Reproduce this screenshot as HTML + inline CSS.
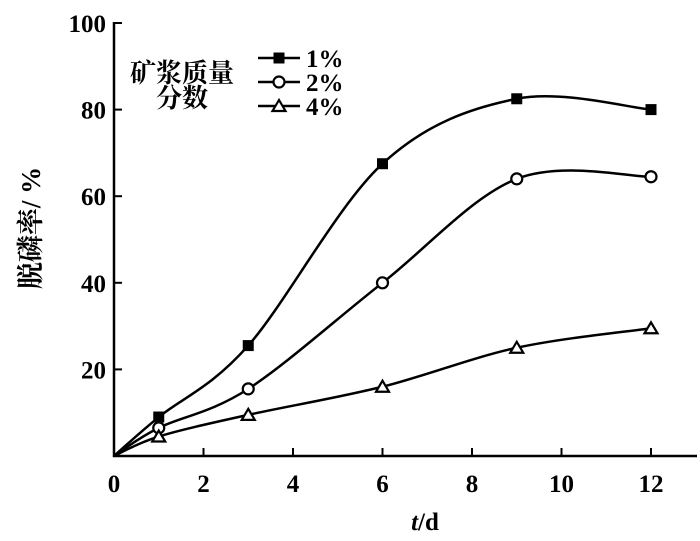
<!DOCTYPE html>
<html><head><meta charset="utf-8"><style>
body{margin:0;background:#fff}
svg text{font-family:"Liberation Serif","Noto Serif CJK SC",serif;fill:#000;font-weight:bold}
</style></head><body>
<svg id="c" width="700" height="536"></svg>
<script>
const xVals=[0,1,3,6,9,12];
const s1=[0,9,25.5,67.5,82.5,80];
const s2=[0,6.5,15.5,40,64,64.5];
const s3=[0,4.5,9.5,16,25,29.5];
const xTicks=[0,2,4,6,8,10,12];
const yTicks=[20,40,60,80,100];
const series=[{name:'1%',v:s1,m:'sq'},{name:'2%',v:s2,m:'ci'},{name:'4%',v:s3,m:'tr'}];
const NS='http://www.w3.org/2000/svg';
const svg=document.getElementById('c');
const X=v=>114+v*44.75, Y=v=>456-v*4.33;
function el(t,a,p){const e=document.createElementNS(NS,t);for(const k in a)e.setAttribute(k,a[k]);(p||svg).appendChild(e);return e;}
let ax=el('path',{d:`M${X(0)},${Y(100)-1}V${Y(0)}H697`,stroke:'#000','stroke-width':2.5,fill:'none'});


xTicks.forEach(t=>{
 if(t>0){const l=el('line',{x1:X(t),x2:X(t),y1:Y(0),y2:Y(0)-8,stroke:'#000','stroke-width':2});
 }
 const tx=el('text',{x:X(t),y:492,'text-anchor':'middle','font-size':25});tx.textContent=t;
 
 
});
yTicks.forEach(t=>{
 const l=el('line',{x1:X(0),x2:X(0)+8,y1:Y(t),y2:Y(t),stroke:'#000','stroke-width':2});
 
 const tx=el('text',{x:106,y:Y(t)+9,'text-anchor':'end','font-size':25});tx.textContent=t;
 
 
});
const xt=el('text',{x:425,y:530,'text-anchor':'middle','font-size':25});
xt.innerHTML='<tspan font-style="italic">t</tspan>/d';


const yt=el('text',{x:0,y:0,'text-anchor':'middle','font-size':27,transform:'translate(40,228) rotate(-90)'});
yt.textContent='脱磷率/ %';


function marker(m,x,y,name){
 let e;
 if(m==='sq')e=el('rect',{x:x-5.5,y:y-5.5,width:11,height:11,fill:'#000'});
 else if(m==='ci')e=el('circle',{cx:x,cy:y,r:5.5,fill:'#fff',stroke:'#000','stroke-width':2.2});
 else e=el('path',{d:`M${x},${y-6}L${x+6.5},${y+5}H${x-6.5}Z`,fill:'#fff',stroke:'#000','stroke-width':2.2});
 
 
}
function spline(pts){
 let d=`M${pts[0][0]},${pts[0][1]}`;
 for(let i=0;i<pts.length-1;i++){
  const p0=pts[i-1]||pts[i],p1=pts[i],p2=pts[i+1],p3=pts[i+2]||p2,k=1/6;
  d+=`C${p1[0]+(p2[0]-p0[0])*k},${p1[1]+(p2[1]-p0[1])*k} ${p2[0]-(p3[0]-p1[0])*k},${p2[1]-(p3[1]-p1[1])*k} ${p2[0]},${p2[1]}`;
 }
 return d;
}
series.forEach((s,si)=>{
 const pts=xVals.map((x,i)=>[X(x),Y(s.v[i])]);
 const p=el('path',{d:spline(pts),fill:'none',stroke:'#000','stroke-width':2.5});
 
 
 xVals.forEach((x,i)=>{if(i>0)marker(s.m,X(x),Y(s.v[i]),'point-'+(si+1)+'-'+x);});
 const ly=[58,82,106][si];
 const ll=el('line',{x1:258,x2:300,y1:ly,y2:ly,stroke:'#000','stroke-width':2.5});
 
 marker(s.m,279,ly,'legend-marker');
 const lt=el('text',{x:306,y:ly+9,'font-size':25});lt.textContent=s.name;
 
 
});
const g1=el('text',{x:182,y:82,'text-anchor':'middle','font-size':26});g1.textContent='矿浆质量';

const g2=el('text',{x:182,y:107,'text-anchor':'middle','font-size':26});g2.textContent='分数';

</script>
</body></html>
